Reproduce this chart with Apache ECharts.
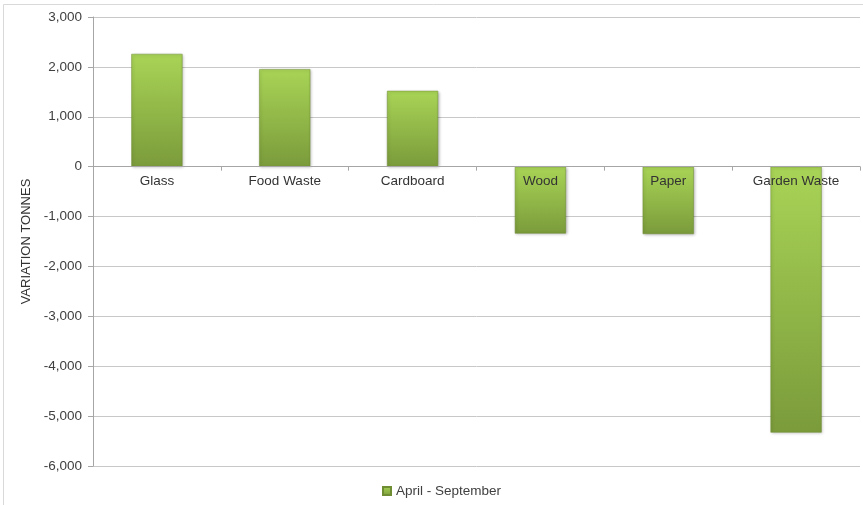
<!DOCTYPE html>
<html>
<head>
<meta charset="utf-8">
<script src="https://cdn.jsdelivr.net/npm/echarts@6/dist/echarts.min.js"></script>
<style>
  html, body { margin: 0; padding: 0; background: #fff; }
  #chart { width: 863px; height: 505px; }
</style>
</head>
<body>
<div id="chart"></div>
<script>
var categories = ["Glass", "Food Waste", "Cardboard", "Wood", "Paper", "Garden Waste"];
var variation = [2260, 1955, 1520, -1340, -1350, -5330];
var seriesName = "April - September";
var yMin = -6000;
var yMax = 3000;
var yStep = 1000;

var chart = echarts.init(document.getElementById("chart"));
var barColor = new echarts.graphic.LinearGradient(0, 0, 0, 1, [
  { offset: 0, color: "#a8d456" },
  { offset: 1, color: "#7b9b3b" }
]);

// grid geometry, used to put the category axis on the zero line
var gridTop = 17, gridBottom = 39;
var plotH = 505 - gridTop - gridBottom;
var zeroFromBottom = plotH * (0 - yMin) / (yMax - yMin);

chart.setOption({
  animation: false,
  textStyle: { fontFamily: "Liberation Sans, Arial, sans-serif" },
  graphic: [
    {
      type: "rect",
      shape: { x: 3.5, y: 4.5, width: 870, height: 510 },
      style: { fill: "none", stroke: "#d9d9d9", lineWidth: 1 },
      silent: true
    }
  ],
  grid: {
    left: 93,
    right: 3,
    top: gridTop,
    bottom: gridBottom,
    containLabel: false
  },
  legend: {
    bottom: 2,
    left: 377,
    itemWidth: 8,
    itemHeight: 8,
    itemGap: 4,
    textStyle: { color: "#404040", fontSize: 13.5 },
    data: [{ name: seriesName, icon: "rect" }]
  },
  xAxis: {
    type: "category",
    data: categories,
    offset: -zeroFromBottom,
    axisLine: { onZero: false, lineStyle: { color: "#a6a6a6" } },
    axisTick: { show: true, length: 4, alignWithLabel: false, lineStyle: { color: "#a6a6a6" } },
    axisLabel: { color: "#333333", fontSize: 13.5, margin: 8, interval: 0 },
    splitLine: { show: false },
    z: 10
  },
  yAxis: {
    type: "value",
    min: yMin,
    max: yMax,
    interval: yStep,
    name: "VARIATION TONNES",
    nameLocation: "middle",
    nameGap: 54,
    nameTextStyle: { color: "#333333", fontSize: 13 },
    axisLine: { show: true, lineStyle: { color: "#a6a6a6" } },
    axisTick: { show: true, length: 5, lineStyle: { color: "#a6a6a6" } },
    axisLabel: {
      color: "#404040",
      fontSize: 13.5,
      margin: 11,
      formatter: function (v) { return v.toLocaleString("en-US"); }
    },
    splitLine: { show: true, lineStyle: { color: "#c8c8c8" } }
  },
  series: [
    {
      name: seriesName,
      type: "bar",
      data: variation,
      barWidth: "40%",
      itemStyle: {
        color: barColor,
        borderColor: "#6f8d33",
        borderWidth: 0.5,
        shadowColor: "rgba(0,0,0,0.3)",
        shadowBlur: 3,
        shadowOffsetX: 1,
        shadowOffsetY: 1
      }
    }
  ]
});
</script>
</body>
</html>
